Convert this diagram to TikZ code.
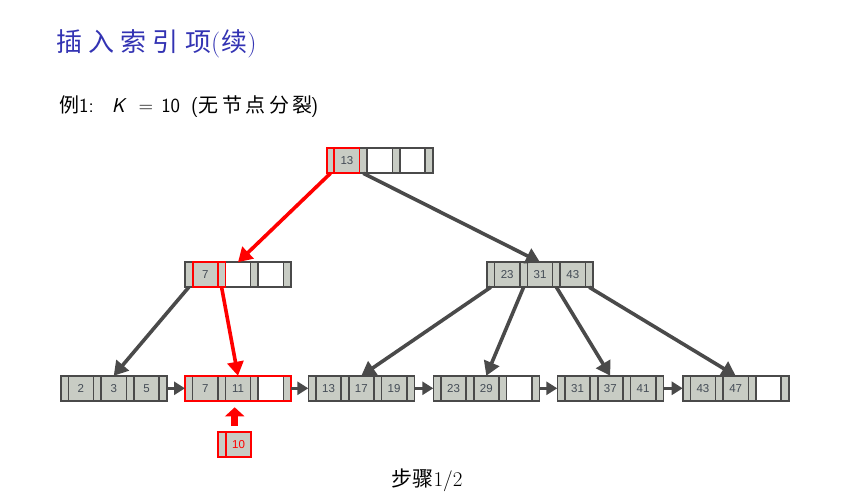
\documentclass[tikz,border=0pt]{standalone}
\usepackage{fontspec}
\usetikzlibrary{arrows.meta,fit}
\newfontfamily\cjk{Noto Sans CJK SC}
\newfontfamily\cjkt[LetterSpace=24]{Noto Sans CJK SC}
\newfontfamily\cjks[LetterSpace=18]{Noto Sans CJK SC}
\newfontfamily\numfont{Liberation Sans}
\definecolor{dgray}{HTML}{4A4A4A}
\definecolor{cgray}{HTML}{C8CCC4}
\definecolor{numcol}{HTML}{444C56}
\definecolor{titleblue}{HTML}{3333B3}
\definecolor{hred}{HTML}{FF0000}
\tikzset{
  slotbase/.style={draw=dgray, line width=1.6pt, inner sep=0pt, outer sep=0pt, minimum height=25pt},
  pslot/.style={slotbase, fill=cgray, minimum width=7.6pt},
  kslot/.style={slotbase, fill=cgray, minimum width=25.2pt, font=\numfont\fontsize{11.5}{13}\selectfont, text=numcol},
  eslot/.style={slotbase, fill=white, minimum width=25.2pt},
  outline/.style={draw=dgray, line width=1.6pt, inner sep=0pt, outer sep=0pt},
  garrow/.style={draw=dgray, line width=3.6pt, -{Triangle[length=14pt,width=16pt]}},
  rarrow/.style={draw=hred, line width=3.6pt, -{Triangle[length=14pt,width=16pt]}},
  carrow/.style={draw=dgray, line width=3.6pt, -{Triangle[length=11pt,width=13pt]}},
  hibox/.style={draw=hred, line width=1.8pt},
}
\newcommand\bnode[8]{%
  \node[pslot, anchor=west] (#1-p1) at #2 {};
  \node[#3, anchor=west] (#1-k1) at (#1-p1.east) {#4};
  \node[pslot, anchor=west] (#1-p2) at (#1-k1.east) {};
  \node[#5, anchor=west] (#1-k2) at (#1-p2.east) {#6};
  \node[pslot, anchor=west] (#1-p3) at (#1-k2.east) {};
  \node[#7, anchor=west] (#1-k3) at (#1-p3.east) {#8};
  \node[pslot, anchor=west] (#1-p4) at (#1-k3.east) {};
  \node[outline, fit=(#1-p1)(#1-p4)] (#1) {};
}
\begin{document}
\begin{tikzpicture}[x=1pt,y=-1pt]
\useasboundingbox (0,0) rectangle (841,500);

% texts
\node[anchor=west, inner sep=0pt, text=titleblue] (title) at (56,44)
  {\fontsize{26}{30}\selectfont{\cjkt 插入索引项}(\hspace{1pt}{\cjk 续})};
\node[anchor=west, inner sep=0pt] (sub) at (59,107)
  {\fontsize{20}{24}\selectfont{\cjk 例}\sffamily 1:\hspace{0.9em}\textsl{K}\hspace{0.6em}=\hspace{0.4em}10\hspace{0.55em}({\cjks 无节点分裂}\hspace{-2pt})};
\node[inner sep=0pt] (step) at (427,480)
  {\fontsize{21}{25}\selectfont{\cjk 步骤}1/2};

% tree nodes
\bnode{top}{(326.7,160.8)}{kslot}{13}{eslot}{}{eslot}{}
\bnode{ml}{(185,274.7)}{kslot}{7}{eslot}{}{eslot}{}
\bnode{mr}{(487,274.7)}{kslot}{23}{kslot}{31}{kslot}{43}
\bnode{la}{(60.7,388.3)}{kslot}{2}{kslot}{3}{kslot}{5}
\bnode{lb}{(185,388.3)}{kslot}{7}{kslot}{11}{eslot}{}
\bnode{lc}{(308.3,388.3)}{kslot}{13}{kslot}{17}{kslot}{19}
\bnode{ld}{(433.3,388.3)}{kslot}{23}{kslot}{29}{eslot}{}
\bnode{le}{(557.3,388.3)}{kslot}{31}{kslot}{37}{kslot}{41}
\bnode{lf}{(682.7,388.3)}{kslot}{43}{kslot}{47}{eslot}{}

% new entry
\node[pslot, anchor=west, draw=hred] (nw-p) at (218.3,444.8) {};
\node[kslot, anchor=west, draw=hred, text=hred] (nw-k) at (nw-p.east) {10};
\node[outline, draw=hred, line width=1.8pt, fit=(nw-p)(nw-k)] (nw) {};

% highlights
\draw[hibox] (top-p1.north west) rectangle (top-k1.south east);
\draw[hibox] (top-p1.north east) -- (top-p1.south east);
\draw[hibox] (ml-k1.north west) rectangle (ml-p2.south east);
\draw[hibox] (ml-p2.north west) -- (ml-p2.south west);
\draw[hibox] (lb.north west) rectangle (lb.south east);

% tree arrows
\draw[rarrow] (top-p1.south) -- (ml.north);
\draw[garrow] (top-p2.south) -- (mr.north);
\draw[garrow] (ml-p1.south) -- (la.north);
\draw[rarrow] (ml-p2.south) -- (lb.north);
\draw[garrow] (mr-p1.south) -- (lc.north);
\draw[garrow] (mr-p2.south) -- (ld.north);
\draw[garrow] (mr-p3.south) -- (le.north);
\draw[garrow] (mr-p4.south) -- (lf.north);

% leaf chain
\draw[carrow] (la.east) -- (lb.west);
\draw[carrow] (lb.east) -- (lc.west);
\draw[carrow] (lc.east) -- (ld.west);
\draw[carrow] (ld.east) -- (le.west);
\draw[carrow] (le.east) -- (lf.west);

% insertion arrow
\draw[draw=hred, line width=7.5pt, -{Triangle[length=9pt,width=19pt]}, shorten <=6.5pt, shorten >=6.5pt]
  (nw.north) -- (nw.north |- lb.south);
\end{tikzpicture}
\end{document}
